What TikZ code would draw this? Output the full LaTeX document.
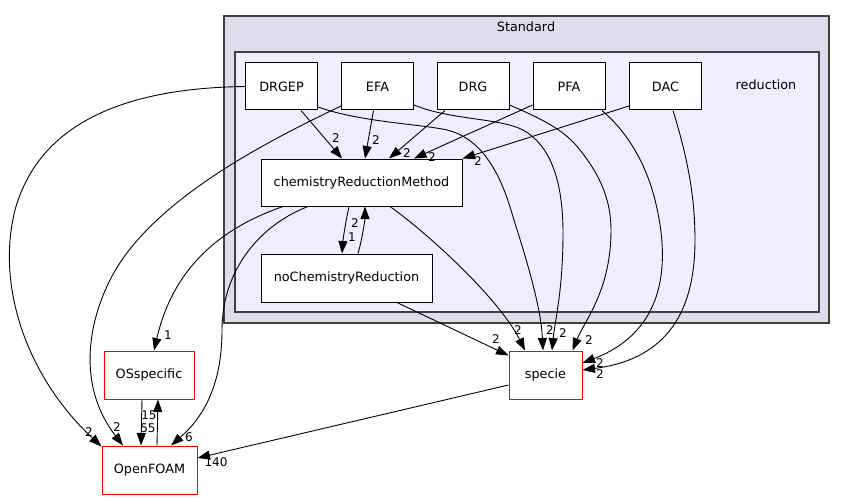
\documentclass[tikz,border=0pt]{standalone}
\usepackage{fontspec}
\setmainfont{DejaVu Sans}
\usetikzlibrary{arrows.meta, calc, positioning}
\tikzset{>={Triangle[length=12.5pt,width=9pt]}}
\definecolor{outerfill}{HTML}{DDDDEE}
\definecolor{innerfill}{HTML}{EEEEFF}
\definecolor{frame}{HTML}{404040}

\begin{document}
\begin{tikzpicture}[x=1pt, y=-1pt,
  every node/.style={font=\fontsize{12.8}{15}\selectfont},
  dirbox/.style={draw=black, fill=white, line width=1pt, inner sep=0pt, minimum width=72, minimum height=47},
  extbox/.style={dirbox, draw=red},
  cluster/.style={draw=frame, line width=1.2pt, inner sep=0pt},
  link/.style={->, line width=0.9pt},
  num/.style={inner sep=0pt, font=\fontsize{12}{13}\selectfont}]

\useasboundingbox (0,0) rectangle (845,500);

% --- Clusters ---
\node[cluster, fill=outerfill, minimum width=605, minimum height=307] (standard) at (526.5,169.5) {};
\node (standardlabel) at (526,27) {Standard};
\node[cluster, fill=innerfill, minimum width=584, minimum height=260] (reduction) at (527,182) {};
\node (reductionlabel) at (766,85) {reduction};

% --- Directories ---
\node[dirbox] (drgep) at (281.5,86.5) {DRGEP};
\node[dirbox] (efa) at (377.5,86.5) {EFA};
\node[dirbox] (drg) at (473,86.5) {DRG};
\node[dirbox] (pfa) at (569,86.5) {PFA};
\node[dirbox] (dac) at (665.5,86.5) {DAC};
\node[dirbox, minimum width=201] (crm) at (361.5,182.5) {chemistryReductionMethod};
\node[dirbox, minimum width=171, minimum height=48] (nochem) at (346.5,278) {noChemistryReduction};

% --- External directories ---
\node[extbox, minimum width=90, minimum height=48] (osspecific) at (149,375) {OSspecific};
\node[extbox, minimum width=95, minimum height=48] (openfoam) at (149.5,470) {OpenFOAM};
\node[extbox, minimum width=73, minimum height=48] (specie) at (545.5,375) {specie};

% --- Into chemistryReductionMethod ---
\draw[link] ($(drgep.south)+(19.5,0)$) -- ($(crm.north)+(-19.5,0)$);
\draw[link] ($(efa.south)+(-4,0)$) -- ($(crm.north)+(3.5,0)$);
\draw[link] ($(drg.south)+(-28,0)$) -- ($(crm.north)+(27.5,0)$);
\draw[link] ($(pfa.west)+(0,18.5)$) -- ($(crm.north)+(52.5,0)$);
\draw[link] ($(dac.west)+(0,19.5)$) -- (crm.north east);
\node[num] (n1) at (336,138) {2};
\node[num] (n2) at (376,140) {2};
\node[num] (n3) at (407,153) {2};
\node[num] (n4) at (432,157) {2};
\node[num] (n5) at (478,161) {2};

% --- Into specie ---
\draw[link] ($(drgep.east)+(0,20.5)$) .. controls (360,122) and (420,124) .. (447,130)
  .. controls (480,138) and (500,170) .. (513,217)
  .. controls (530,270) and (541,310) .. ($(specie.north)+(-2.5,0)$);
\draw[link] ($(efa.east)+(0,18.5)$) .. controls (450,120) and (500,118) .. (523,130)
  .. controls (550,145) and (563,180) .. (563,233)
  .. controls (563,290) and (555,320) .. ($(specie.north)+(6.5,0)$);
\draw[link] ($(drg.east)+(0,18.5)$) .. controls (540,118) and (565,130) .. (580,150)
  .. controls (600,175) and (611,200) .. (611,230)
  .. controls (611,290) and (585,320) .. ($(specie.north)+(27,0)$);
\draw[link] ($(pfa.south)+(33,0)$) .. controls (625,130) and (645,160) .. (655,200)
  .. controls (670,260) and (668,330) .. ($(specie.east)+(0,-12)$);
\draw[link] ($(dac.south)+(7.5,0)$) .. controls (685,150) and (695,190) .. (695,240)
  .. controls (695,320) and (660,360) .. ($(specie.east)+(0,-5)$);
\draw[link] ($(crm.south)+(28.5,0)$) .. controls (430,235) and (500,300) .. ($(specie.north)+(-20.5,0)$);
\draw[link] ($(nochem.south)+(50.5,0)$) -- ($(specie.north west)+(0,5)$);
\node[num] (n6) at (496,339) {2};
\node[num] (n7) at (518,330) {2};
\node[num] (n8) at (550,330) {2};
\node[num] (n9) at (563,333) {2};
\node[num] (n10) at (589,340) {2};
\node[num] (n11) at (600,363) {2};
\node[num] (n12) at (600,374) {2};

% --- Between the two method directories ---
\draw[link] ($(crm.south)+(-12.5,0)$) .. controls (345,225) and (343,240) .. ($(nochem.north)+(-4.5,0)$);
\draw[link] ($(nochem.north)+(11.5,0)$) .. controls (362,240) and (365,220) .. ($(crm.south)+(3.5,0)$);
\node[num] (n13) at (355,223) {2};
\node[num] (n14) at (352,237) {1};

% --- Into OSspecific and OpenFOAM ---
\draw[link] ($(crm.south)+(-78.5,0)$) .. controls (230,225) and (175,260) .. ($(osspecific.north)+(5,0)$);
\draw[link] ($(crm.south)+(-53.5,0)$) .. controls (260,225) and (222,270) .. (222,330)
  .. controls (222,390) and (200,420) .. ($(openfoam.north)+(21.5,0)$);
\draw[link] ($(efa.west)+(0,19.5)$) .. controls (270,140) and (150,200) .. (110,280)
  .. controls (85,330) and (80,390) .. ($(openfoam.north)+(-26.5,0)$);
\draw[link] (drgep.west) .. controls (130,88) and (40,120) .. (15,210)
  .. controls (-5,290) and (30,380) .. ($(openfoam.north west)+(0,1)$);
\draw[link] ($(osspecific.south)+(-7,0)$) -- ($(openfoam.north)+(-8.5,0)$);
\draw[link] ($(openfoam.north)+(7.5,0)$) -- ($(osspecific.south)+(9,0)$);
\draw[link] ($(specie.west)+(0,10)$) -- ($(openfoam.east)+(0,-12)$);
\node[num] (n15) at (168,335) {1};
\node[num] (n16) at (189,437) {6};
\node[num] (n17) at (117,427) {2};
\node[num] (n18) at (89,432) {2};
\node[num] (n19) at (149,415) {15};
\node[num] (n20) at (148,428) {55};
\node[num] (n21) at (216,462) {140};

\end{tikzpicture}
\end{document}
